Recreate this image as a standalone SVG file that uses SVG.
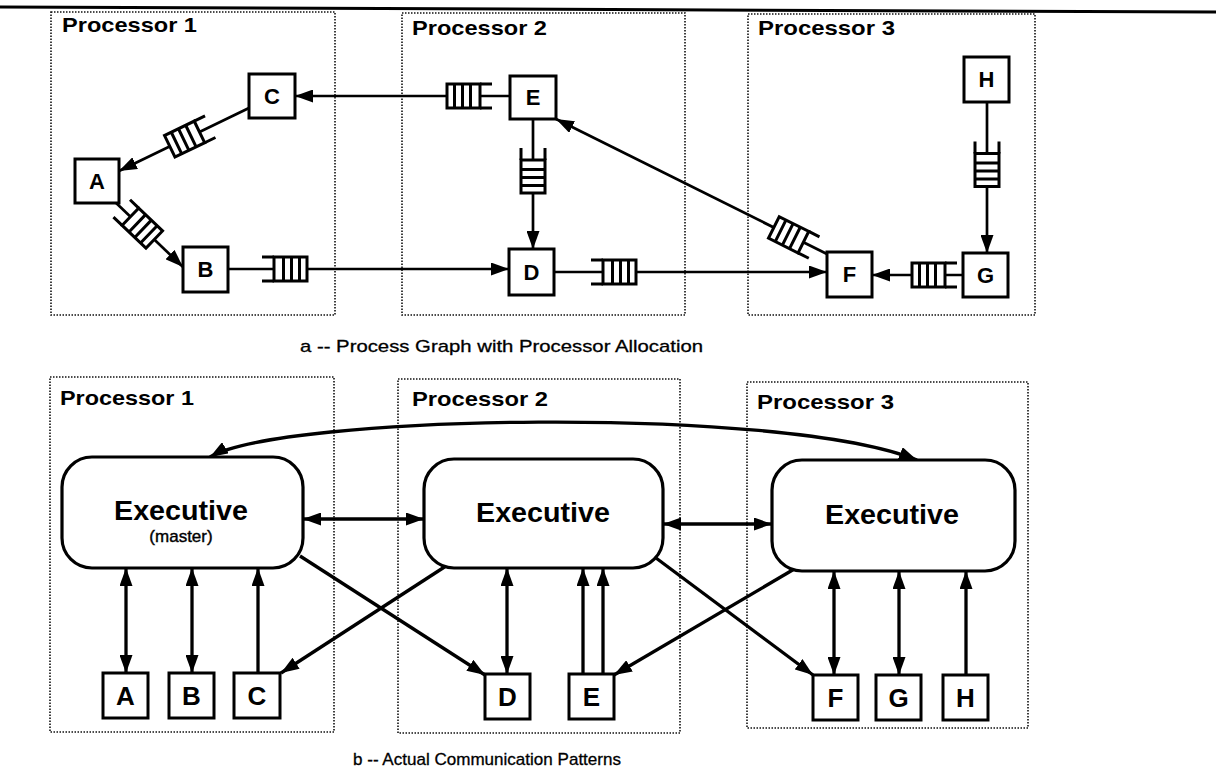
<svg xmlns="http://www.w3.org/2000/svg" xmlns:xlink="http://www.w3.org/1999/xlink" width="1216" height="772" viewBox="0 0 1216 772">
<style>
.proc{fill:none;stroke:#111;stroke-width:1.6;stroke-dasharray:1.5 1.5}
.plabel{font-family:"Liberation Sans",Arial,sans-serif;font-weight:bold;font-size:21px;fill:#000}
.node{fill:#fff;stroke:#000;stroke-width:3}
.na{font-family:"Liberation Sans",Arial,sans-serif;font-weight:bold;font-size:22px;text-anchor:middle;fill:#000}
.nb{font-family:"Liberation Sans",Arial,sans-serif;font-weight:bold;font-size:26px;text-anchor:middle;fill:#000}
.exec{fill:#fff;stroke:#000;stroke-width:3.2}
.et{font-family:"Liberation Sans",Arial,sans-serif;font-weight:bold;font-size:27px;text-anchor:middle;fill:#000}
.em{font-family:"Liberation Sans",Arial,sans-serif;font-size:17px;text-anchor:middle;fill:#000;stroke:#000;stroke-width:0.4}
.cap{font-family:"Liberation Sans",Arial,sans-serif;font-size:17px;fill:#000;stroke:#000;stroke-width:0.3}
.ca{fill:none;stroke:#000;stroke-width:2.7}
.cb{fill:none;stroke:#000;stroke-width:3.3}
.q{fill:#fff;stroke:#000;stroke-width:3}
.ql{fill:none;stroke:#000;stroke-width:3}
</style>
<defs>
<marker id="ah" viewBox="0 0 18 13" refX="18" refY="6.5" markerWidth="18" markerHeight="13" markerUnits="userSpaceOnUse" orient="auto-start-reverse">
<path d="M0,0 L18,6.5 L0,13 z" fill="#000"/>
</marker>
<g id="queue">
<rect class="q" x="-10.5" y="-12" width="33" height="24"/>
<path class="ql" d="M-22.5,-12 H-10.5 M-22.5,12 H-10.5 M-1,-12 V12 M7,-12 V12 M15,-12 V12"/>
</g>
</defs>
<rect width="1216" height="772" fill="#fff"/>
<line x1="0" y1="7" x2="1216" y2="12" stroke="#000" stroke-width="3"/>

<g id="processors-a">
<rect class="proc" x="51" y="12" width="284" height="303"/>
<rect class="proc" x="402" y="13" width="283" height="302"/>
<rect class="proc" x="748" y="14" width="287" height="301"/>
<text class="plabel" x="62" y="32" textLength="135" lengthAdjust="spacingAndGlyphs">Processor 1</text>
<text class="plabel" x="412" y="35" textLength="135" lengthAdjust="spacingAndGlyphs">Processor 2</text>
<text class="plabel" x="758" y="35" textLength="137" lengthAdjust="spacingAndGlyphs">Processor 3</text>
</g>

<g id="processors-b">
<rect class="proc" x="50" y="377" width="284" height="355"/>
<rect class="proc" x="398" y="379" width="282" height="354"/>
<rect class="proc" x="747" y="382" width="281" height="346"/>
<text class="plabel" x="60" y="405" textLength="134" lengthAdjust="spacingAndGlyphs">Processor 1</text>
<text class="plabel" x="412" y="406" textLength="136" lengthAdjust="spacingAndGlyphs">Processor 2</text>
<text class="plabel" x="757" y="409" textLength="137" lengthAdjust="spacingAndGlyphs">Processor 3</text>
</g>

<g id="connectors">
<!-- part a -->
<line class="ca" x1="510" y1="96" x2="295" y2="96" marker-end="url(#ah)"/>
<use xlink:href="#queue" transform="translate(469.5,96) rotate(180)"/>
<line class="ca" x1="249" y1="108" x2="119" y2="171" marker-end="url(#ah)"/>
<use xlink:href="#queue" transform="translate(190,136.5) rotate(154.2)"/>
<line class="ca" x1="113" y1="200" x2="183" y2="267" marker-end="url(#ah)"/>
<use xlink:href="#queue" transform="translate(138,224) rotate(43.7)"/>
<line class="ca" x1="228" y1="269" x2="509" y2="269" marker-end="url(#ah)"/>
<use xlink:href="#queue" transform="translate(284.5,269)"/>
<line class="ca" x1="533" y1="119" x2="533" y2="249" marker-end="url(#ah)"/>
<use xlink:href="#queue" transform="translate(533,170.5) rotate(90)"/>
<line class="ca" x1="554" y1="272" x2="827" y2="272" marker-end="url(#ah)"/>
<use xlink:href="#queue" transform="translate(613.5,272)"/>
<line class="ca" x1="827" y1="254" x2="556" y2="119" stroke-width="3.6" marker-end="url(#ah)"/>
<use xlink:href="#queue" transform="translate(794,237.5) rotate(206.5)"/>
<line class="ca" x1="987" y1="102" x2="987" y2="253" marker-end="url(#ah)"/>
<use xlink:href="#queue" transform="translate(987,164) rotate(90)"/>
<line class="ca" x1="963" y1="275" x2="872" y2="275" marker-end="url(#ah)"/>
<use xlink:href="#queue" transform="translate(934.5,275) rotate(180)"/>

<!-- part b -->
<path class="cb" d="M210,457 C280,415 780,405 917,460" marker-start="url(#ah)" marker-end="url(#ah)"/>
<line class="cb" x1="303" y1="519" x2="424" y2="519" marker-start="url(#ah)" marker-end="url(#ah)"/>
<line class="cb" x1="663" y1="524" x2="772" y2="524" marker-start="url(#ah)" marker-end="url(#ah)"/>
<line class="cb" x1="126" y1="568" x2="126" y2="673" marker-start="url(#ah)" marker-end="url(#ah)"/>
<line class="cb" x1="192" y1="568" x2="192" y2="673" marker-start="url(#ah)" marker-end="url(#ah)"/>
<line class="cb" x1="258" y1="673" x2="258" y2="568" stroke-width="2.4" marker-end="url(#ah)"/>
<line class="cb" x1="507" y1="568" x2="507" y2="674" marker-start="url(#ah)" marker-end="url(#ah)"/>
<line class="cb" x1="583" y1="674" x2="583" y2="568" stroke-width="2.7" marker-end="url(#ah)"/>
<line class="cb" x1="603" y1="674" x2="603" y2="568" stroke-width="2.7" marker-end="url(#ah)"/>
<line class="cb" x1="834" y1="571" x2="834" y2="675" marker-start="url(#ah)" marker-end="url(#ah)"/>
<line class="cb" x1="899" y1="571" x2="899" y2="675" marker-start="url(#ah)" marker-end="url(#ah)"/>
<line class="cb" x1="966" y1="675" x2="966" y2="571" stroke-width="2.7" marker-end="url(#ah)"/>
<line class="cb" x1="300" y1="556" x2="485" y2="675" marker-end="url(#ah)"/>
<line class="cb" x1="446" y1="566" x2="281" y2="673" marker-end="url(#ah)"/>
<line class="cb" x1="656" y1="558" x2="813" y2="675" marker-end="url(#ah)"/>
<line class="cb" x1="796" y1="568" x2="614" y2="675" marker-end="url(#ah)"/>
</g>

<g id="a-A"><rect class="node" x="75" y="159" width="44" height="44"/><text class="na" x="97" y="189">A</text></g>
<g id="a-B"><rect class="node" x="183" y="247" width="45" height="45"/><text class="na" x="205.5" y="277">B</text></g>
<g id="a-C"><rect class="node" x="249" y="74" width="46" height="44"/><text class="na" x="272" y="104">C</text></g>
<g id="a-D"><rect class="node" x="509" y="249" width="45" height="46"/><text class="na" x="531.5" y="280">D</text></g>
<g id="a-E"><rect class="node" x="510" y="76" width="46" height="43"/><text class="na" x="533" y="105">E</text></g>
<g id="a-F"><rect class="node" x="827" y="252" width="45" height="45"/><text class="na" x="849.5" y="282">F</text></g>
<g id="a-G"><rect class="node" x="963" y="253" width="45" height="44"/><text class="na" x="985.5" y="283">G</text></g>
<g id="a-H"><rect class="node" x="964" y="57" width="45" height="45"/><text class="na" x="986.5" y="87">H</text></g>

<text class="cap" x="300" y="352" textLength="403" lengthAdjust="spacingAndGlyphs">a -- Process Graph with Processor Allocation</text>

<g id="exec1"><rect class="exec" x="62" y="457" width="241" height="111" rx="30"/><text class="et" x="181" y="520" textLength="134" lengthAdjust="spacingAndGlyphs">Executive</text><text class="em" x="181" y="542">(master)</text></g>
<g id="exec2"><rect class="exec" x="424" y="459" width="239" height="109" rx="30"/><text class="et" x="543" y="522" textLength="134" lengthAdjust="spacingAndGlyphs">Executive</text></g>
<g id="exec3"><rect class="exec" x="772" y="460" width="243" height="111" rx="30"/><text class="et" x="892" y="524" textLength="134" lengthAdjust="spacingAndGlyphs">Executive</text></g>

<g id="b-A"><rect class="node" x="103" y="673" width="45" height="45"/><text class="nb" x="125.5" y="705">A</text></g>
<g id="b-B"><rect class="node" x="169" y="673" width="45" height="45"/><text class="nb" x="191.5" y="705">B</text></g>
<g id="b-C"><rect class="node" x="234" y="673" width="46" height="45"/><text class="nb" x="257" y="705">C</text></g>
<g id="b-D"><rect class="node" x="485" y="674" width="45" height="45"/><text class="nb" x="507.5" y="706">D</text></g>
<g id="b-E"><rect class="node" x="569" y="674" width="45" height="45"/><text class="nb" x="591.5" y="706">E</text></g>
<g id="b-F"><rect class="node" x="813" y="675" width="45" height="45"/><text class="nb" x="835.5" y="707">F</text></g>
<g id="b-G"><rect class="node" x="876" y="675" width="45" height="45"/><text class="nb" x="898.5" y="707">G</text></g>
<g id="b-H"><rect class="node" x="943" y="675" width="45" height="45"/><text class="nb" x="965.5" y="707">H</text></g>

<text class="cap" x="353" y="765" textLength="268" lengthAdjust="spacingAndGlyphs">b -- Actual Communication Patterns</text>
</svg>
